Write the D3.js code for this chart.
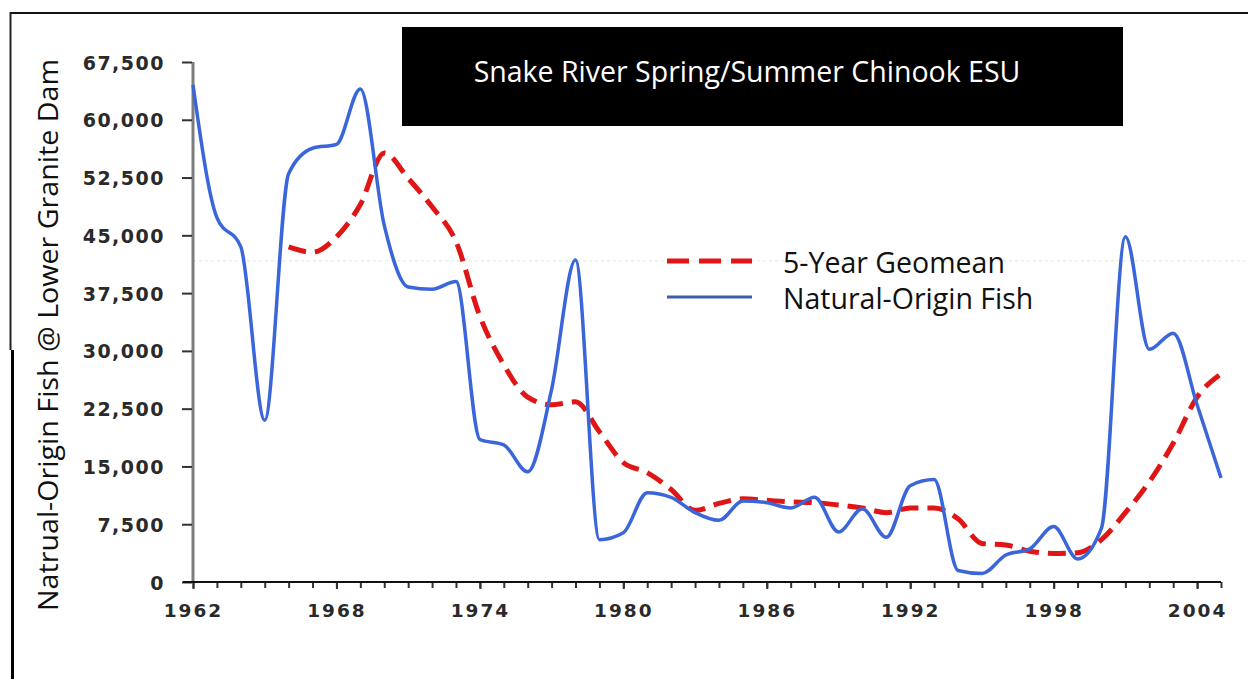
<!DOCTYPE html>
<html>
<head>
<meta charset="utf-8">
<script src="https://cdn.jsdelivr.net/npm/d3@7/dist/d3.min.js"></script>
<style>
  html, body { margin: 0; padding: 0; background: #fff; }
  svg { display: block; }
</style>
</head>
<body>
<svg id="chart" width="1248" height="679"></svg>
<script>
// ---- data ----
const years = [1962,1963,1964,1965,1966,1967,1968,1969,1970,1971,1972,1973,1974,1975,1976,1977,1978,1979,1980,1981,1982,1983,1984,1985,1986,1987,1988,1989,1990,1991,1992,1993,1994,1995,1996,1997,1998,1999,2000,2001,2002,2003,2004,2005];
const naturalOrigin = [64500,47300,43500,21000,53000,56300,56800,64000,46300,38300,38000,39000,18500,17800,14300,25000,41800,5500,6400,11600,11000,9000,8000,10500,10300,9600,11000,6500,9500,5800,12500,13300,1500,1100,3500,4300,7200,3000,7000,44800,30200,32300,23000,13500];
const geomeanYears = [1966,1967,1968,1969,1970,1971,1972,1973,1974,1975,1976,1977,1978,1979,1980,1981,1982,1983,1984,1985,1986,1987,1988,1989,1990,1991,1992,1993,1994,1995,1996,1997,1998,1999,2000,2001,2002,2003,2004,2005];
const geomean5yr = [43500,42800,44800,49000,55700,52400,48700,44200,34500,28200,24000,23000,23400,19500,15500,14200,12000,9300,10200,10800,10600,10400,10300,10000,9600,9000,9600,9600,8200,5000,4800,4000,3700,3800,5500,9000,13000,18000,24000,27000];
const yTicks = [0,7500,15000,22500,30000,37500,45000,52500,60000,67500];
const xTickLabels = [1962,1968,1974,1980,1986,1992,1998,2004];
const referenceLevel = 41700;
const titleText = "Snake River Spring/Summer Chinook ESU";
const yAxisTitle = "Natrual-Origin Fish @ Lower Granite Dam";
const legendLabels = ["5-Year Geomean", "Natural-Origin Fish"];

// ---- layout ----
const svg = d3.select("#chart");
const plot = { left: 193, right: 1221, top: 62, bottom: 582 };

const x = d3.scaleLinear().domain([1962, 2005]).range([plot.left, plot.right]);
const y = d3.scaleLinear().domain([0, 67500]).range([plot.bottom, plot.top]);

// outer frame
svg.append("line").attr("x1", 10).attr("x2", 1248).attr("y1", 13).attr("y2", 13)
  .attr("stroke", "#111").attr("stroke-width", 2);
svg.append("line").attr("x1", 10.5).attr("x2", 10.5).attr("y1", 12).attr("y2", 350)
  .attr("stroke", "#222").attr("stroke-width", 2);
svg.append("line").attr("x1", 12.5).attr("x2", 12.5).attr("y1", 350).attr("y2", 679)
  .attr("stroke", "#000").attr("stroke-width", 3);

// faint green reference line
svg.append("line")
  .attr("x1", plot.left).attr("x2", 1248)
  .attr("y1", y(referenceLevel)).attr("y2", y(referenceLevel))
  .attr("stroke", "#e4f2e4").attr("stroke-width", 1.5).attr("stroke-dasharray", "3,3");

// title box
svg.append("rect").attr("x", 402).attr("y", 27).attr("width", 721).attr("height", 99).attr("fill", "#000");
svg.append("text").attr("x", 747).attr("y", 82).attr("text-anchor", "middle")
  .attr("fill", "#fff").style("font-family", "'Open Sans', sans-serif").style("font-size", "28.5px")
  .text(titleText);

// y axis line (gray)
svg.append("line").attr("x1", plot.left).attr("x2", plot.left).attr("y1", plot.top).attr("y2", plot.bottom)
  .attr("stroke", "#7d7d7d").attr("stroke-width", 3);

// y axis ticks and labels
const yAxis = d3.axisLeft(y).tickValues(yTicks).tickSize(10).tickFormat(d3.format(","));
const gy = svg.append("g").attr("transform", `translate(${plot.left - 1},0)`).call(yAxis);
gy.select(".domain").remove();
gy.selectAll(".tick line").attr("stroke", "#333").attr("stroke-width", 2);
gy.selectAll(".tick text")
  .attr("x", -27).attr("dy", "0.37em")
  .attr("fill", "#2a2a2a")
  .style("font-family", "'DejaVu Sans', sans-serif").style("font-weight", "bold")
  .style("font-size", "19px").style("letter-spacing", "1.5px");

// x axis minor ticks (every year)
const xAxisMinor = d3.axisBottom(x).tickValues(years).tickSize(6).tickFormat("");
const gxm = svg.append("g").attr("transform", `translate(0,${plot.bottom})`).call(xAxisMinor);
gxm.select(".domain").remove();
gxm.selectAll(".tick line").attr("stroke", "#333").attr("stroke-width", 2);

// x axis labels
const xAxis = d3.axisBottom(x).tickValues(xTickLabels).tickSize(7).tickFormat(d3.format("d"));
const gx = svg.append("g").attr("transform", `translate(0,${plot.bottom})`).call(xAxis);
gx.select(".domain").remove();
gx.selectAll(".tick line").attr("stroke", "#333").attr("stroke-width", 2);
gx.selectAll(".tick text")
  .attr("y", 22).attr("dy", "0.71em")
  .attr("fill", "#2a2a2a")
  .style("font-family", "'DejaVu Sans', sans-serif").style("font-weight", "bold")
  .style("font-size", "18.5px").style("letter-spacing", "2px");

// x axis baseline
svg.append("line").attr("x1", plot.left - 10).attr("x2", plot.right).attr("y1", plot.bottom).attr("y2", plot.bottom)
  .attr("stroke", "#111").attr("stroke-width", 2);

// y axis title
svg.append("text")
  .attr("transform", `translate(58,${(58 + 612) / 2}) rotate(-90)`)
  .attr("text-anchor", "middle").attr("fill", "#111")
  .attr("textLength", 552).attr("lengthAdjust", "spacingAndGlyphs")
  .style("font-family", "'Open Sans', sans-serif").style("font-size", "28px")
  .text(yAxisTitle);

// lines
const blueData = years.map((yr, i) => ({ yr, v: naturalOrigin[i] }));
const redData = geomeanYears.map((yr, i) => ({ yr, v: geomean5yr[i] }));
const lineGen = d3.line().x(d => x(d.yr)).y(d => y(d.v)).curve(d3.curveMonotoneX);

svg.append("path").datum(redData).attr("d", lineGen)
  .attr("fill", "none").attr("stroke", "#e01515").attr("stroke-width", 5)
  .attr("stroke-dasharray", "18,9");

svg.append("path").datum(blueData).attr("d", lineGen)
  .attr("fill", "none").attr("stroke", "#3a66da").attr("stroke-width", 3.5)
  .attr("stroke-linejoin", "round");

// legend
const legend = svg.append("g");
legend.append("line").attr("x1", 667).attr("x2", 752).attr("y1", 261).attr("y2", 261)
  .attr("stroke", "#e01515").attr("stroke-width", 5).attr("stroke-dasharray", "22,10");
legend.append("line").attr("x1", 667).attr("x2", 752).attr("y1", 297).attr("y2", 297)
  .attr("stroke", "#3b5fa8").attr("stroke-width", 3);
legend.append("text").attr("x", 783).attr("y", 273).attr("fill", "#111")
  .style("font-family", "'Open Sans', sans-serif").style("font-size", "28.5px").text(legendLabels[0]);
legend.append("text").attr("x", 783).attr("y", 309).attr("fill", "#111")
  .style("font-family", "'Open Sans', sans-serif").style("font-size", "28.5px").text(legendLabels[1]);
</script>
</body>
</html>
